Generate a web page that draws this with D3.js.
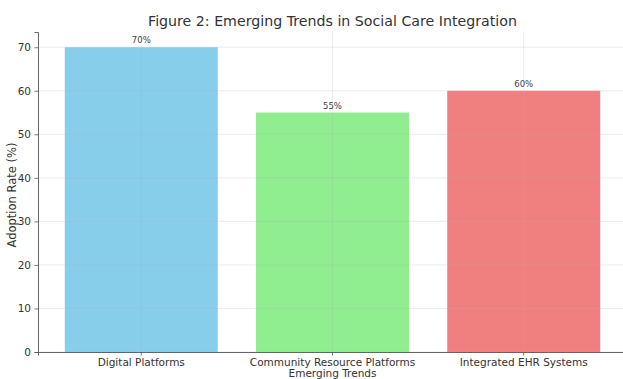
<!DOCTYPE html>
<html>
<head>
<meta charset="utf-8">
<script src="https://cdn.jsdelivr.net/npm/d3@7"></script>
<style>
  html, body { margin: 0; padding: 0; background: #fff; }
  svg { display: block; font-family: "DejaVu Sans", sans-serif; }
</style>
</head>
<body>
<svg id="chart" width="623" height="379"></svg>
<script>
const categories = ["Digital Platforms", "Community Resource Platforms", "Integrated EHR Systems"];
const values = [70, 55, 60];
const colors = ["#87CEEB", "#90EE90", "#F08080"];
const yTicks = [0, 10, 20, 30, 40, 50, 60, 70];
const title = "Figure 2: Emerging Trends in Social Care Integration";
const xLabel = "Emerging Trends";
const yLabel = "Adoption Rate (%)";

const svg = d3.select("#chart");
const m = { left: 38, right: 627, top: 32, bottom: 352 };

const x = d3.scaleBand().domain(categories).range([m.left, m.right])
  .paddingInner(0.2).paddingOuter(0.14);
const y = d3.scaleLinear().domain([0, 73.5]).range([m.bottom, m.top]);

// bars
svg.append("g").selectAll("rect").data(categories).join("rect")
  .attr("x", d => x(d))
  .attr("y", (d, i) => y(values[i]))
  .attr("width", x.bandwidth())
  .attr("height", (d, i) => y(0) - y(values[i]))
  .attr("fill", (d, i) => colors[i]);

// grid
const grid = svg.append("g").attr("stroke", "#b0b0b0").attr("stroke-opacity", 0.3).attr("stroke-width", 0.8);
grid.selectAll("line.h").data(yTicks).join("line").attr("class", "h")
  .attr("x1", m.left).attr("x2", m.right)
  .attr("y1", d => y(d)).attr("y2", d => y(d));
grid.selectAll("line.v").data(categories).join("line").attr("class", "v")
  .attr("x1", d => x(d) + x.bandwidth() / 2).attr("x2", d => x(d) + x.bandwidth() / 2)
  .attr("y1", m.top).attr("y2", m.bottom);

// axes
const yAxis = svg.append("g").attr("transform", `translate(${m.left},0)`)
  .call(d3.axisLeft(y).tickValues(yTicks).tickSize(3.5).tickPadding(3.5));
const xAxis = svg.append("g").attr("transform", `translate(0,${m.bottom})`)
  .call(d3.axisBottom(x).tickSize(3.5).tickPadding(3.5));
[yAxis, xAxis].forEach(a => {
  a.select(".domain").attr("stroke", "#555").attr("stroke-width", 0.9);
  a.selectAll(".tick line").attr("stroke", "#555").attr("stroke-width", 0.8);
  a.selectAll(".tick text").attr("fill", "#333").attr("font-family", "DejaVu Sans")
    .attr("font-size", "10.5px");
});

// value labels
svg.append("g").selectAll("text").data(categories).join("text")
  .attr("x", d => x(d) + x.bandwidth() / 2)
  .attr("y", (d, i) => y(values[i]) - 4)
  .attr("text-anchor", "middle")
  .attr("font-size", "8.5px")
  .attr("fill", "#444")
  .text((d, i) => values[i] + "%");

// title
svg.append("text").attr("x", (m.left + m.right) / 2).attr("y", 25.5)
  .attr("text-anchor", "middle").attr("font-size", "14.2px").attr("fill", "#333")
  .text(title);

// x label
svg.append("text").attr("x", (m.left + m.right) / 2).attr("y", 377)
  .attr("text-anchor", "middle").attr("font-size", "10.5px").attr("fill", "#333")
  .text(xLabel);

// y label
svg.append("text").attr("transform", `translate(16,195) rotate(-90)`)
  .attr("text-anchor", "middle").attr("font-size", "11.5px").attr("fill", "#333")
  .text(yLabel);
</script>
</body>
</html>
